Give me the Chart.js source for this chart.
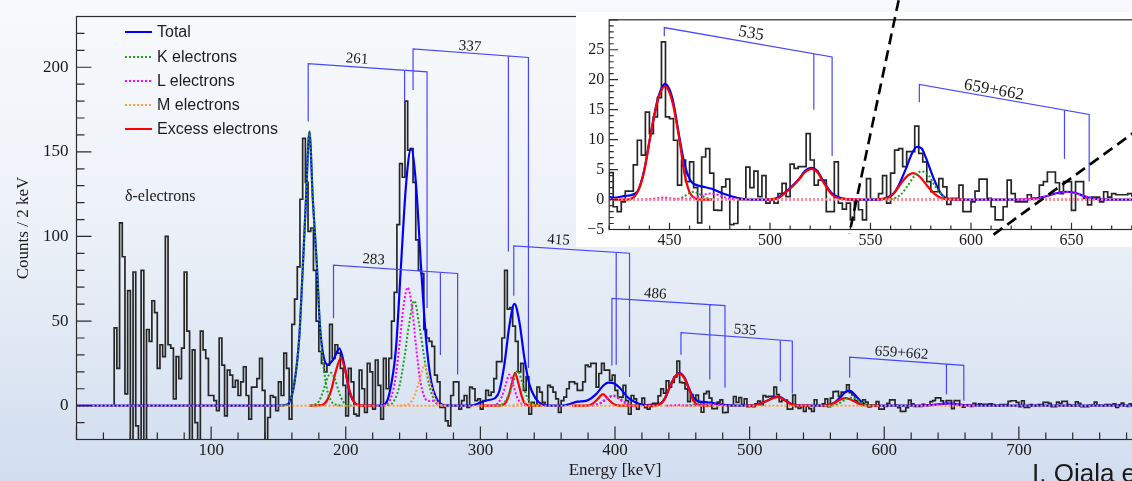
<!DOCTYPE html>
<html>
<head>
<meta charset="utf-8">
<title>Conversion electron spectrum</title>
<script src="https://cdn.jsdelivr.net/npm/chart.js@4.4.1/dist/chart.umd.min.js"></script>
<style>
  html, body { margin: 0; padding: 0; }
  body {
    width: 1132px; height: 481px; overflow: hidden; position: relative;
    background: linear-gradient(to bottom, #f8f9fc 0%, #edf2f8 45%, #d1ddef 100%);
    font-family: 'Liberation Sans', Arial, sans-serif;
  }
  #mainChart { position: absolute; left: 0; top: 0; }
  #insetChart { position: absolute; left: 576px; top: 0; }
  .legend-row {
    position: absolute; left: 125px; height: 20px; display: flex; align-items: center;
    white-space: nowrap; font-size: 16px; color: #1c1c1c;
  }
  .legend-row svg { margin-right: 5px; }
  #credit {
    position: absolute; left: 1032px; top: 460px; font-size: 26px; line-height: 26px;
    color: #1a1a1a; white-space: nowrap;
  }
</style>
</head>
<body>
<canvas id="mainChart" width="1160" height="481"></canvas>
<canvas id="insetChart" width="620" height="247"></canvas>
<div id="legend"></div>
<div id="credit">I. Ojala et al.</div>

<script>
// ---------- histogram (2 keV bins, first bin starts at 28 keV) ----------
const BIN_WIDTH = 2;
const FIRST_BIN = 28;

// 28 - 162 keV (delta electrons)
const countsLow = [
  22, 46, 22, 108, 88, 7, 68, -25, 79, -12, -25, 80, -25, 45, 38, 62, 55, 22, 36, 29,
  100, 36, 34, 4, 29, 16, 34, 79, 44, -25, 33, -10, -25, 44, 33, 28, 6, 6, 3, -3,
  40, 24, -6, 21, 18, 11, 15, 6, 14, 23, 6, -8, 11, 11, 16, 28, 9, -22, -7, 6,
  5, -3, 14, 6, 31, 22, -8
];
// 162 - 420 keV
const countsMid = [
  48, 63, 82, 122, 158, 132, 103, 105, 80, 50, 32, 25, 20, 24, 48, 28, 36, 31, 22,
  12, -6, 22, 14, -5, -6, 21, 10, -4, 25, 20, -2, 27, 12, -8, 28, 10, 28, 50, 67,
  107, 143, 135, 180, 151, 152, 132, 98, 80, 78,
  45, 40, 38, 35, 18, 14, -1, -1, -9, -12, 6, 14, 14, -2, 3, 6, -1, 11, 10, 3, 4, -2,
  3, 9, 6, 8, 16, 26, 26, 40, 80, 57, 58, 47, 38, 20, 25, 9, 17, -5, 2, 0, 11, 8, 2, 0,
  12, 11, 8, 4, -4, 3, 5, 10, 14, 14, 13, 9, 9, 14, 24, 23, 25, 25, 11, 19,
  25, 21, 21, 15, 18, 9, 5, 5, 12, 3, -5, 6, 4, -2
];
// 420 - 800 keV
const countsHigh = [
  1, 4.5, -1.2, -2, -0.4, 1.4, 1.4, 5.8, 9.9, 7.4,
  14.6, 11, 13.8, 17, 26.3, 13.8, 13.5, 9.9, 2.4, 6.6,
  3, 6.3, 2, -3.9, 7.1, 8.5, 4.4, -1.75, -1.8, 2.1,
  3.4, -4.2, -4, 0, 0, 5.4, 2, 4.75, 0.5, 4,
  -0.6, 0, -0.6, 1, 2.7, 0.5, 5.9, 5.2, 5.5, 5.5,
  11, 6.6, 2.4, 3.25, 3.25, -2, -2, 6.3, -0.6, -1.6,
  -0.6, -3.4, 0, -1.7, -3.4, 3.5, 0, 0, 1, 4,
  -0.6, 4.4, 8.25, 8.5, 5.5, 8, 8, 12.25, 7.7, 6.3,
  3, 1.3, 1.3, 3.5, 2.1, -0.8, 0.2, 0.2, 2.4, -2,
  -2, -0.4, 1.4, 3.4, 3.4, 0.2, -1.2, -3.4, -3.4, -1.2,
  3.25, 1, -0.4, -0.4, -0.4, 0.8, 0.2, 0.2, 2.4, 3,
  4.6, 4.6, 2.8, 1, 3, 3, -1.8, 3, 3, 0.2,
  -0.9, 0.4, 0.4, -0.4, 1.3, 0.4, 1, 0.8, 0.8, 0.8, 1,
  0.6, 0, 0, 0.6, 0.6, 0.6, 2.5, 2.9, 2.9, 2, -0.6, 2.9, -1, -1, 0.6, 0, 0, 0.6, 0.6, 2,
  2, 1.4, -0.6, -0.6, 2.1, 1.4, 2.5, 2.5, 0.6, 0, 0, 2.3, 1.4, -0.6, -0.6, -0.6, 0.2, 0.2, 2.1, 0.2,
  0.2, -0.2, 0.6, 0.6, 0.2, 1, -1, 0.5, 1.5, 0, -0.5, 1, 0.5, 2, 0, -1, 1, 0.5, 0
];

// ---------- fit curves, [energy keV, counts] ----------
const totalFit = [
  [0, 0], [150, 0], [156, 0.5], [158, 1.7], [161.7, 12.6], [165.4, 39.7], [167.9, 78.5], [170.4, 121],
  [173, 162], [175.6, 121], [178.6, 82.4], [180.8, 47.5], [183.3, 30], [186.5, 24.2], [191.4, 28.1],
  [195.2, 33.9], [198.9, 24.2], [202.6, 8.7], [207.6, 1], [212, 0],
  [226, 0], [229, 0.8], [232.3, 6.8], [237.3, 33.9], [241, 82.4], [244.8, 130.8], [248.5, 152],
  [252.2, 130.8], [255.9, 82.4], [259.6, 39.7], [263.4, 14.5], [267.1, 4.8], [272, 0.5], [280, 0],
  [292, 0], [297, 0.8], [302, 2.5], [307, 3.5], [311, 4.5], [314.1, 8.7], [317.8, 24.2], [321.6, 47.5],
  [325.3, 60.1], [329, 49.4], [332.7, 28.1], [336.4, 12.6], [341.4, 3.9], [346.3, 0.6], [352, 0],
  [360, 0], [366, 0.8], [372, 2.4], [379, 3], [386, 6.8], [391, 11.6], [395, 13.6], [399, 13.2],
  [403.3, 10.7], [409.6, 4.8], [415.8, 1.7], [422, 0.3],
  [428, 0.6], [433.7, 1.2], [437.2, 4.6], [440.7, 11], [444.2, 16.8], [447.8, 19.3], [451.5, 16.8],
  [454.7, 10.8], [457.4, 6], [460.8, 3], [466, 2.2], [471, 1.8], [476.6, 1], [483.6, 0.3], [490, 0],
  [498, 0], [503, 0.2], [509.9, 1.9], [514.3, 3.4], [517.5, 4.8], [520.6, 5.3], [523.5, 4.8], [526, 3.4],
  [530.9, 1], [536, 0.2], [542, 0],
  [552, 0], [557.2, 0.2], [562.4, 1.4], [567.7, 5.2], [570.5, 7.6], [573, 8.8], [575.5, 8.5], [577.3, 7.2],
  [581.7, 3.3], [585, 1], [588, 0.2], [592, 0],
  [625, 0], [632, 0.2], [638, 0.6], [643, 1.1], [647.4, 1.3], [652, 1.1], [656, 0.6], [661, 0.2], [668, 0],
  [800, 0]
];

const kFits = [
  [[150, 0], [156, 0.5], [158, 1.7], [161.7, 12.6], [165.4, 39.7], [167.9, 78.5], [170.4, 121], [173, 162],
   [175.6, 121], [178.6, 82.4], [180.8, 47.5], [183.3, 25], [186, 10], [189, 3], [193, 0.5], [198, 0]],
  [[174, 0], [176, 0.3], [180, 2.5], [183, 8], [186, 15.5], [189, 19.4], [192, 15.5], [195, 8], [198, 2.5],
   [202, 0.3], [206, 0]],
  [[228, 0], [232, 0.3], [236, 3], [240, 12], [243.5, 28], [247, 48], [250.9, 62], [254.5, 48], [258.4, 28],
   [262, 12], [266, 3], [270, 0.3], [275, 0]],
  [[310, 0], [314, 0.2], [318, 2], [321, 6.5], [324.5, 14], [327.7, 20.7], [331, 14], [334, 6.5], [337, 2],
   [341, 0.2], [345, 0]],
  [[380, 0], [384, 0.2], [389.5, 1.5], [394, 4.2], [399, 6], [404, 4.2], [408.5, 1.5], [414, 0.2], [418, 0]],
  [[452, 0], [456, 0.3], [459, 0.9], [462, 1.3], [465, 0.9], [468, 0.3], [472, 0]],
  [[558, 0], [561, 0.1], [565, 0.8], [568.5, 2.3], [572, 4], [575.6, 4.7], [579, 4], [582, 2.3], [585.5, 0.8],
   [589, 0.1], [593, 0]]
];

const lFits = [
  [[228, 0], [231, 1.2], [234, 5.5], [237, 16.5], [240, 36.8], [243, 59.4], [246, 69.8], [249, 59.4],
   [252, 36.8], [255, 16.5], [258, 6], [261, 2.8], [264, 3], [267, 1.5], [271, 0.2], [275, 0]],
  [[306, 0], [310, 0.2], [313, 1.5], [316, 5.5], [318.5, 11.5], [321.6, 18.4], [324.5, 12], [327, 5.5],
   [330, 1.5], [333, 0.2], [336, 0]],
  [[380, 0], [384, 0.2], [389, 1.5], [393.5, 4], [398.4, 5.8], [403, 4], [407.5, 1.5], [412, 0.2], [416, 0]],
  [[438, 0], [444, 0.2], [447, 0.35], [450, 0.2], [455, 0.1], [459, 0.15], [463, 0.4], [467, 0.8],
   [470.5, 1], [474, 0.8], [478, 0.3], [483, 0]],
  [[624, 0], [632, 0.2], [638, 0.6], [643, 1.1], [647.4, 1.25], [652, 1.1], [656, 0.6], [661, 0.2], [668, 0]]
];

const mFits = [
  [[240, 0], [244, 0.3], [248, 1.7], [251, 5.6], [254, 13], [256.5, 20], [258.4, 24.2], [260.5, 20],
   [263, 13], [266, 5], [269, 1.3], [272, 0.2], [276, 0]],
  [[324, 0], [327, 0.5], [330, 1.3], [333, 2], [336, 1.3], [339, 0.5], [342, 0]]
];

// zero level of the component curves, drawn across the whole range
const baseline = [[0, 0], [800, 0]];

const excessFits = [
  [[173, 0], [182, 0.3], [186, 3], [189.5, 10], [192.5, 20], [196.4, 28.1], [199.5, 21], [202.5, 10],
   [205.5, 3], [209, 0.3], [213, 0], [222.5, 0]],
  [[300, 0], [316, 0.2], [319, 2], [321.5, 7], [323.6, 14], [325.8, 19.4], [328, 14], [330.2, 7],
   [332.5, 2], [335, 0.3], [340, 0], [346, 0]],
  [[368, 0], [380, 0.2], [384, 1.5], [387.5, 4.2], [391, 6.8], [394.5, 4.2], [398, 1.5], [402, 0.2],
   [410, 0], [418, 0]],
  [[422, 0], [429, 0], [433.7, 1], [437.2, 4.4], [440.7, 11], [444.2, 16.6], [447.7, 18.9], [451.2, 16.6],
   [454.7, 10.5], [457.4, 4.4], [460.8, 0.75], [466, 0], [471, 0]],
  [[498, 0], [503, 0.1], [509.9, 1.8], [514.3, 3.3], [517.5, 4.6], [520.8, 5.1], [523.5, 4.6], [526, 3.2],
   [530.9, 0.8], [536, 0.1], [545, 0]],
  [[553, 0], [557, 0.1], [561, 0.8], [565, 2.6], [568.5, 4], [571.2, 4.4], [574.5, 3.8], [578, 2.4],
   [582, 0.9], [587, 0.1], [596, 0]]
];

// ---------- level brackets (energies in keV, heights in counts) ----------
const bracketLabels   = ['261', '337', '283', '415', '486', '535', '659+662'];
const bracketStartE   = [172.1, 250.0, 190.9, 324.8, 397.7, 449.0, 574.3];
const bracketMidE     = [243.7, 320.8, 270.3, 400.9, 470.4, 522.8, 646.2];
const bracketEndE     = [260.4, 335.7, 283.1, 410.8, 481.7, 531.7, 659.1];
const bracketStartLow = [168.0, 186.5, 51.7, 64.9, 23.8, 30.1, 16.5];
const bracketStartTop = [202.2, 210.9, 83.0, 94.4, 63.4, 43.2, 28.7];
const bracketEndTop   = [197.3, 205.8, 78.1, 90.1, 59.1, 38.2, 23.8];
const bracketMidLow   = [179.8, 91.1, 30.0, 24.2, 15.5, 14.5, 6.8];
const bracketEndLow   = [57.7, 22.3, 18.4, 16.9, 10.6, 7.2, 2.9];
const bracketLabelE   = [208.3, 292.3, 220.7, 358.0, 429.9, 496.6, 612.8];
const bracketLabelC   = [204.8, 212.2, 86.2, 97.8, 65.9, 44.6, 31.0];

const insetBracketLabels   = ['535', '659+662'];
const insetBracketStartE   = [447.4, 574.3];
const insetBracketMidE     = [521.8, 646.5];
const insetBracketEndE     = [530.9, 658.8];
const insetBracketStartLow = [27.25, 16.25];
const insetBracketStartTop = [28.7, 19.2];
const insetBracketEndTop   = [23.8, 14.2];
const insetBracketMidLow   = [15.0, 6.8];
const insetBracketEndLow   = [7.25, 3.0];
const insetBracketLabelE   = [490.6, 611.4];
const insetBracketLabelC   = [27.7, 18.25];

// dashed zoom guide lines, in inset coordinates
const guideStartE = [564.0, 611.2];
const guideStartC = [33.25, -5.85];
const guideEndE   = [539.5, 694.0];
const guideEndC   = [-5.67, 14.35];

// ---------- ticks / labels ----------
const xTicksMain = [100, 200, 300, 400, 500, 600, 700];
const yTicksMain = [0, 50, 100, 150, 200];
const xTicksInset = [450, 500, 550, 600, 650];
const yTicksInset = [-5, 0, 5, 10, 15, 20, 25];

const legendLabels = ['Total', 'K electrons', 'L electrons', 'M electrons', 'Excess electrons'];

const COLORS = {
  total: '#0000ff',
  k: '#1f9e1f',
  l: '#ff00ff',
  m: '#ff9c3a',
  excess: '#ff0000',
  bracket: '#4646ff',
  hist: '#262626',
  text: '#1a1a1a'
};
const legendColors = [COLORS.total, COLORS.k, COLORS.l, COLORS.m, COLORS.excess];
const legendDotted = [false, true, true, true, false];

const SERIF = "'Liberation Serif', 'DejaVu Serif', serif";

// ---------- helpers ----------
const toXY = pts => pts.map(p => ({ x: p[0], y: p[1] }));

function curve(pts, color, dotted, order) {
  return {
    data: toXY(pts),
    borderColor: color,
    borderWidth: dotted ? 2 : 2.2,
    borderDash: dotted ? [2, 2] : [],
    cubicInterpolationMode: 'monotone',
    pointRadius: 0,
    fill: false,
    order
  };
}

function histogramData() {
  const counts = countsLow.concat(countsMid, countsHigh);
  const pts = [{ x: FIRST_BIN, y: 0 }];
  counts.forEach((c, i) => pts.push({ x: FIRST_BIN + i * BIN_WIDTH, y: c }));
  pts.push({ x: FIRST_BIN + counts.length * BIN_WIDTH, y: counts[counts.length - 1] });
  return pts;
}

// the main pad shows only the M zero line over the total, the inset also the L one
function buildDatasets(withLBaseline) {
  const sets = [{
    data: histogramData(), borderColor: COLORS.hist, borderWidth: 1.7,
    stepped: 'after', pointRadius: 0, fill: false, order: 10
  }];
  sets.push(curve(totalFit, COLORS.total, false, 8));
  excessFits.forEach(s => sets.push(curve(s, COLORS.excess, false, 6)));
  kFits.forEach(s => sets.push(curve(s, COLORS.k, true, 4)));
  if (withLBaseline) sets.push(curve(baseline, COLORS.l, true, 3));
  lFits.forEach(s => sets.push(curve(s, COLORS.l, true, 3)));
  sets.push(curve(baseline, COLORS.m, true, 2));
  mFits.forEach(s => sets.push(curve(s, COLORS.m, true, 2)));
  return sets;
}

// ROOT-style frame with ticks pointing into the plot
function rootFrame(t) {
  return {
    id: 'rootFrame',
    afterDraw(chart) {
      const { ctx, chartArea: a, scales: { x, y } } = chart;
      ctx.save();
      ctx.strokeStyle = '#2b2b2b';
      ctx.lineWidth = 1.2;
      ctx.strokeRect(a.left, a.top, a.right - a.left, a.bottom - a.top);
      ctx.beginPath();
      for (let i = Math.ceil(x.min / t.xMinor); i * t.xMinor <= x.max; i++) {
        const px = x.getPixelForValue(i * t.xMinor);
        const len = (i % (t.xMajor / t.xMinor) === 0) ? t.xMajorLen : t.xMinorLen;
        ctx.moveTo(px, a.bottom);
        ctx.lineTo(px, a.bottom - len);
      }
      for (let i = Math.ceil(y.min / t.yMinor); i * t.yMinor <= y.max; i++) {
        const py = y.getPixelForValue(i * t.yMinor);
        const len = (i % (t.yMajor / t.yMinor) === 0) ? t.yMajorLen : t.yMinorLen;
        ctx.moveTo(a.left, py);
        ctx.lineTo(a.left + len, py);
      }
      ctx.stroke();
      ctx.restore();
    }
  };
}

function bracketPlugin(b) {
  return {
    id: 'brackets',
    afterDatasetsDraw(chart) {
      const { ctx, scales: { x, y } } = chart;
      ctx.save();
      ctx.strokeStyle = COLORS.bracket;
      ctx.lineWidth = 1.2;
      ctx.fillStyle = COLORS.text;
      ctx.font = b.fontSize + 'px ' + SERIF;
      ctx.textAlign = 'center';
      ctx.textBaseline = 'middle';
      for (let i = 0; i < b.labels.length; i++) {
        const x0 = x.getPixelForValue(b.startE[i]);
        const x1 = x.getPixelForValue(b.midE[i]);
        const x2 = x.getPixelForValue(b.endE[i]);
        const yTop0 = y.getPixelForValue(b.startTop[i]);
        const yTop2 = y.getPixelForValue(b.endTop[i]);
        const yTop1 = yTop0 + (yTop2 - yTop0) * (x1 - x0) / (x2 - x0);
        ctx.beginPath();
        ctx.moveTo(x0, y.getPixelForValue(b.startLow[i]));
        ctx.lineTo(x0, yTop0);
        ctx.lineTo(x2, yTop2);
        ctx.lineTo(x2, y.getPixelForValue(b.endLow[i]));
        ctx.moveTo(x1, yTop1);
        ctx.lineTo(x1, y.getPixelForValue(b.midLow[i]));
        ctx.stroke();

        const angle = Math.atan2(yTop2 - yTop0, x2 - x0);
        ctx.save();
        ctx.translate(x.getPixelForValue(b.labelE[i]), y.getPixelForValue(b.labelC[i]));
        ctx.rotate(angle);
        ctx.fillText(b.labels[i], 0, 0);
        ctx.restore();
      }
      ctx.restore();
    }
  };
}

const deltaLabel = {
  id: 'deltaLabel',
  afterDatasetsDraw(chart) {
    const { ctx, scales: { x, y } } = chart;
    ctx.save();
    ctx.fillStyle = COLORS.text;
    ctx.font = '16px ' + SERIF;
    ctx.textAlign = 'left';
    ctx.textBaseline = 'middle';
    ctx.fillText('\u03b4-electrons', x.getPixelForValue(36), y.getPixelForValue(123.3));
    ctx.restore();
  }
};

const insetBackground = {
  id: 'insetBackground',
  beforeDraw(chart) {
    const { ctx, width, height } = chart;
    ctx.save();
    ctx.fillStyle = '#ffffff';
    ctx.fillRect(0, 12, width, height - 12);
    ctx.restore();
  }
};

const guideLines = {
  id: 'guideLines',
  afterDraw(chart) {
    const { ctx, scales: { x, y } } = chart;
    ctx.save();
    ctx.strokeStyle = '#000000';
    ctx.lineWidth = 2.6;
    ctx.setLineDash([11, 6]);
    for (let i = 0; i < guideStartE.length; i++) {
      ctx.beginPath();
      ctx.moveTo(x.getPixelForValue(guideStartE[i]), y.getPixelForValue(guideStartC[i]));
      ctx.lineTo(x.getPixelForValue(guideEndE[i]), y.getPixelForValue(guideEndC[i]));
      ctx.stroke();
    }
    ctx.restore();
  }
};

const minusSign = v => String(v).replace('-', '\u2212');

function axis(min, max, tickValues, opts) {
  return {
    type: 'linear',
    min, max,
    afterBuildTicks: s => { s.ticks = tickValues.map(v => ({ value: v })); },
    afterFit: opts.afterFit,
    grid: { display: false, drawTicks: false },
    border: { display: false },
    ticks: {
      padding: opts.padding,
      autoSkip: false,
      maxRotation: 0,
      color: COLORS.text,
      font: { family: SERIF, size: opts.fontSize, lineHeight: 1 },
      callback: minusSign
    },
    title: opts.title || { display: false }
  };
}

// ---------- main chart ----------
new Chart(document.getElementById('mainChart'), {
  type: 'line',
  data: { datasets: buildDatasets(false) },
  options: {
    responsive: false,
    animation: false,
    devicePixelRatio: 1,
    events: [],
    layout: { padding: { top: 9.5, right: 6.5, left: 0, bottom: 0 } },
    plugins: { legend: { display: false }, tooltip: { enabled: false } },
    scales: {
      x: axis(0, 800, xTicksMain, {
        afterFit: s => { s.height = 41.5; }, padding: 3, fontSize: 17,
        title: { display: true, text: 'Energy [keV]', color: COLORS.text,
                 font: { family: SERIF, size: 17 }, padding: { top: 0, bottom: 0 } }
      }),
      y: axis(-20, 230, yTicksMain, {
        afterFit: s => { s.width = 76.5; }, padding: 8, fontSize: 17,
        title: { display: true, text: 'Counts / 2 keV', color: COLORS.text,
                 font: { family: SERIF, size: 17 }, padding: { top: 13, bottom: 0 } }
      })
    }
  },
  plugins: [
    bracketPlugin({
      labels: bracketLabels, startE: bracketStartE, midE: bracketMidE, endE: bracketEndE,
      startLow: bracketStartLow, startTop: bracketStartTop, endTop: bracketEndTop,
      midLow: bracketMidLow, endLow: bracketEndLow, labelE: bracketLabelE, labelC: bracketLabelC,
      fontSize: 15
    }),
    deltaLabel,
    rootFrame({ xMinor: 20, xMajor: 100, yMinor: 10, yMajor: 50,
                xMajorLen: 13, xMinorLen: 7, yMajorLen: 15, yMinorLen: 8 })
  ]
});

// ---------- inset ----------
new Chart(document.getElementById('insetChart'), {
  type: 'line',
  data: { datasets: buildDatasets(true) },
  options: {
    responsive: false,
    animation: false,
    devicePixelRatio: 1,
    events: [],
    layout: { padding: { top: 19.8, right: 24, left: 0, bottom: 0 } },
    plugins: { legend: { display: false }, tooltip: { enabled: false } },
    scales: {
      x: axis(420, 700, xTicksInset, { afterFit: s => { s.height = 17.5; }, padding: 3, fontSize: 16 }),
      y: axis(-5, 30, yTicksInset, { afterFit: s => { s.width = 33.2; }, padding: 5, fontSize: 16 })
    }
  },
  plugins: [
    insetBackground,
    bracketPlugin({
      labels: insetBracketLabels, startE: insetBracketStartE, midE: insetBracketMidE, endE: insetBracketEndE,
      startLow: insetBracketStartLow, startTop: insetBracketStartTop, endTop: insetBracketEndTop,
      midLow: insetBracketMidLow, endLow: insetBracketEndLow,
      labelE: insetBracketLabelE, labelC: insetBracketLabelC, fontSize: 17
    }),
    rootFrame({ xMinor: 10, xMajor: 50, yMinor: 1, yMajor: 5,
                xMajorLen: 6.7, xMinorLen: 4, yMajorLen: 8.8, yMinorLen: 4.5 }),
    guideLines
  ]
});

// ---------- legend ----------
const legendEl = document.getElementById('legend');
legendLabels.forEach((label, i) => {
  const row = document.createElement('div');
  row.className = 'legend-row';
  row.style.top = (32.3 + i * 24.2 - 10) + 'px';
  const dash = legendDotted[i] ? ' stroke-dasharray="2 2"' : '';
  row.innerHTML =
    `<svg width="27" height="4"><line x1="0" y1="2" x2="27" y2="2" stroke="${legendColors[i]}" stroke-width="2"${dash}/></svg>` +
    `<span>${label}</span>`;
  legendEl.appendChild(row);
});
</script>
</body>
</html>
